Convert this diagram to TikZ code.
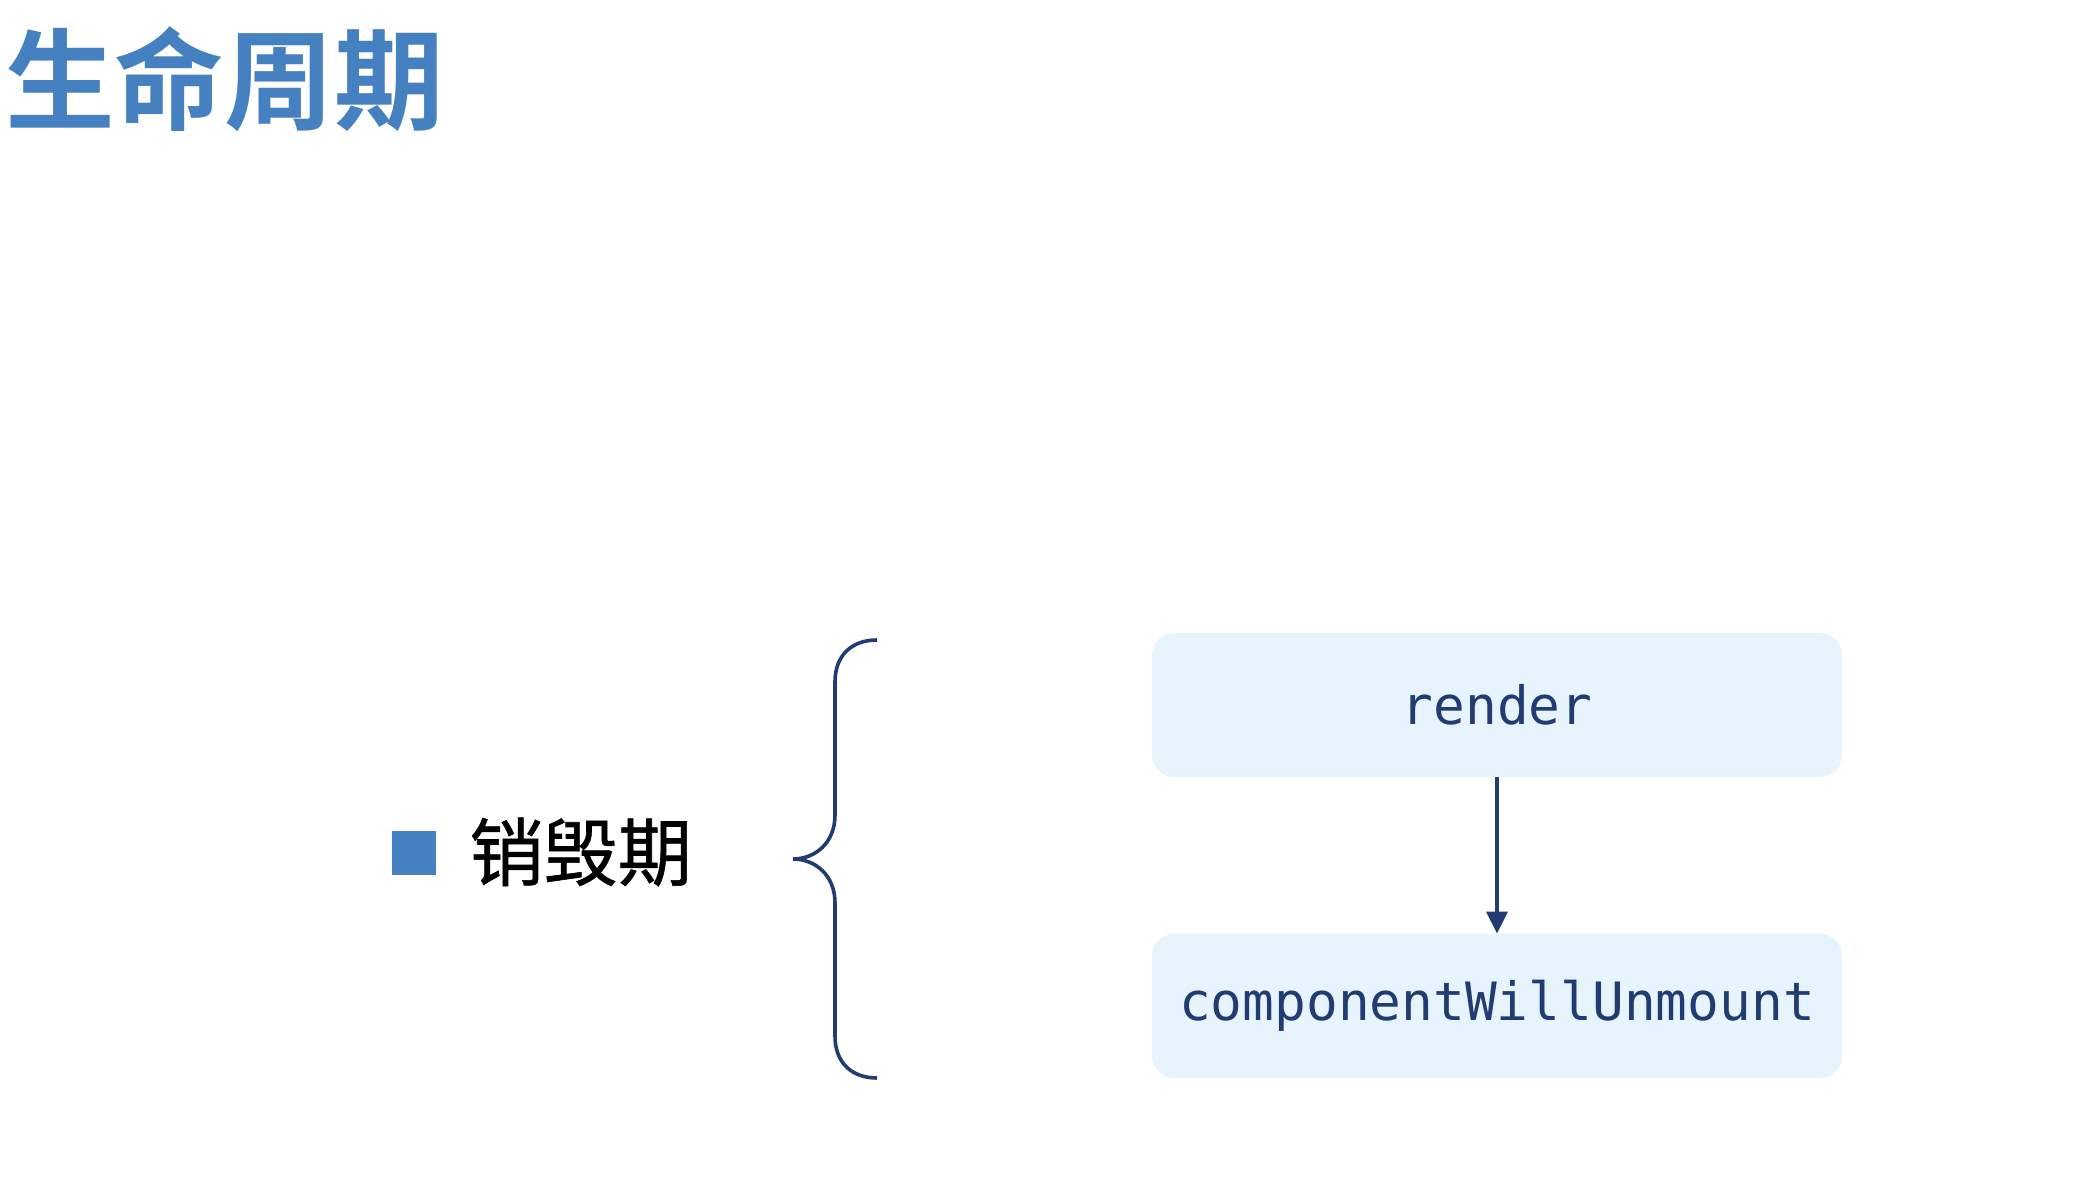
\documentclass[tikz,border=0pt]{standalone}
\usepackage{fontspec}
\newfontfamily\cjkbold{Noto Sans CJK SC Bold}
\newfontfamily\cjk[FakeBold=0.8]{Noto Sans CJK SC}
\setmonofont{DejaVu Sans Mono}
\usetikzlibrary{arrows.meta}
\definecolor{titleblue}{RGB}{69,129,193}
\definecolor{navy}{RGB}{33,60,115}
\definecolor{boxfill}{RGB}{232,244,253}
\begin{document}
\begin{tikzpicture}[x=0.5pt,y=-0.5pt,
  stagebox/.style={fill=boxfill, rounded corners=11pt, minimum width=345pt, minimum height=72pt, inner sep=0pt, text=navy, font=\ttfamily\fontsize{26.4pt}{30pt}\selectfont},
  brace/.style={draw=navy, line width=1.8pt},
  flow/.style={draw=navy, line width=1.8pt, -{Triangle[length=11pt,width=10.5pt]}}]
\useasboundingbox[fill=white] (0,0) rectangle (2084,1182);
\node[anchor=west, inner sep=0pt, text=titleblue, font=\cjkbold\fontsize{54.8pt}{60pt}\selectfont] (title) at (5,79) {生命周期};
\node[fill=titleblue, minimum size=22pt, inner sep=0pt] (bullet) at (414,853) {};
\node[anchor=west, inner sep=0pt, font=\cjk\fontsize{37.1pt}{42pt}\selectfont] (phase) at (469,852) {销毁期};
\draw[brace] (877,640) .. controls (852,640) and (835,655) .. (835,682) -- (835,815) .. controls (835,843) and (815,859) .. (793,859) .. controls (815,859) and (835,875) .. (835,903) -- (835,1036) .. controls (835,1063) and (852,1078) .. (877,1078);
\node[stagebox] (render) at (1497,705) {render};
\node[stagebox] (cwu) at (1497,1006) {componentWillUnmount};
\draw[flow] (render.south) -- (cwu.north);
\end{tikzpicture}
\end{document}
